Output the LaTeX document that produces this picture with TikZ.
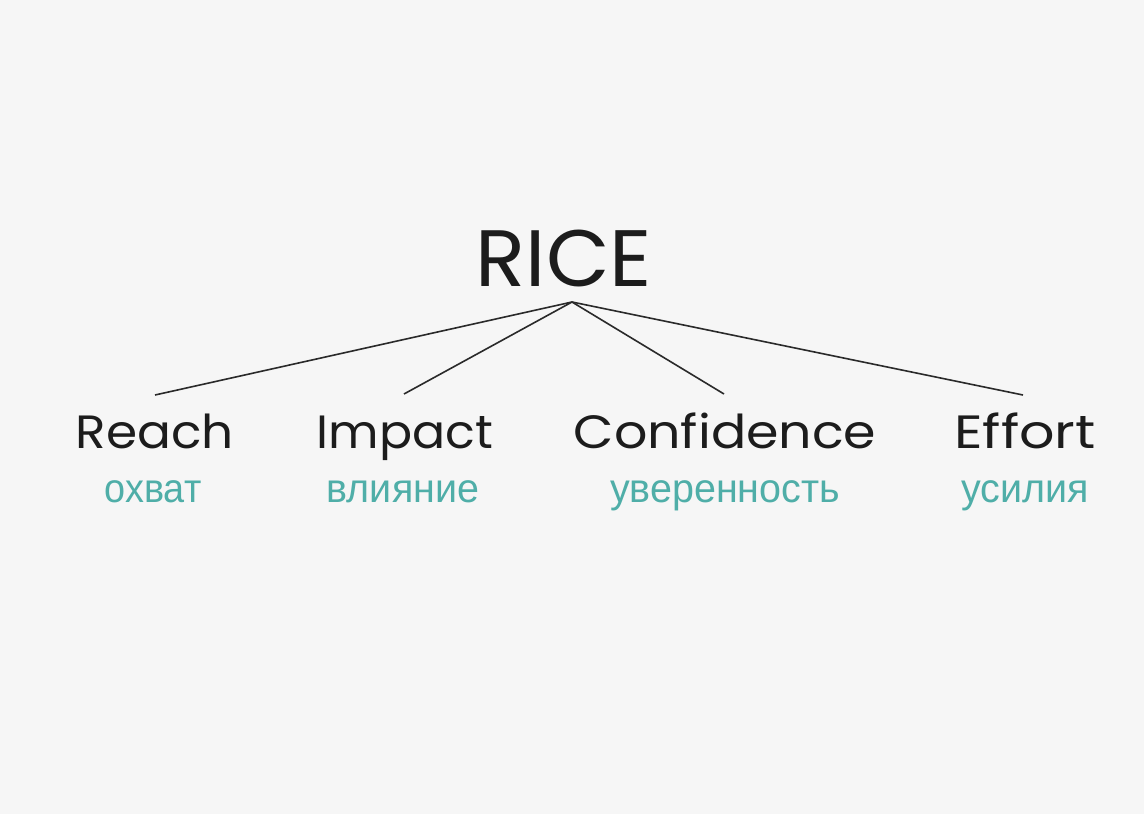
\documentclass[tikz,border=0pt]{standalone}
\usepackage{fontspec}
\setmainfont{Poppins}
\newfontfamily\rufont{Liberation Sans}
\definecolor{bgc}{HTML}{F6F6F6}
\definecolor{ink}{HTML}{1C1C1C}
\definecolor{teal}{HTML}{4FAEA8}
\definecolor{linec}{HTML}{2A2A2A}
\newcommand\wideby[2]{\scalebox{#1}[1]{#2}}
\begin{document}
\begin{tikzpicture}[x=0.75pt,y=-0.75pt,
  title/.style={anchor=base,inner sep=0pt,text=ink,font=\fontsize{60}{60}\selectfont},
  term/.style={anchor=base,inner sep=0pt,text=ink,font=\fontsize{35}{35}\selectfont},
  trans/.style={anchor=base,inner sep=0pt,text=teal,font=\rufont\fontsize{30.5}{31}\selectfont},
  link/.style={draw=linec,line width=1.2pt}]
\fill[bgc] (0,0) rectangle (1144,814);
\useasboundingbox (0,0) rectangle (1144,814);
\node[title] (rice) at (564,286) {\wideby{1.03}{RICE}};
\coordinate (apex) at (572,302);
\node[term] (reach) at (155,448) {\wideby{1.075}{Reach}};
\node[term] (impact) at (405,448) {\wideby{1.05}{Impact}};
\node[term] (conf) at (725,448) {\wideby{1.12}{Confidence}};
\node[term] (effort) at (1025,448) {\wideby{1.19}{Effort}};
\node[trans] (oxvat) at (153,502) {\wideby{0.93}{охват}};
\node[trans] (vliyanie) at (403,502) {\wideby{0.97}{влияние}};
\node[trans] (uver) at (725,502) {\wideby{0.97}{уверенность}};
\node[trans] (usiliya) at (1025,502) {\wideby{0.97}{усилия}};
\coordinate (reachtop) at (155,395);
\coordinate (impacttop) at (404,394);
\coordinate (conftop) at (724,394);
\coordinate (efforttop) at (1023,395);
\draw[link] (apex) -- (reachtop);
\draw[link] (apex) -- (impacttop);
\draw[link] (apex) -- (conftop);
\draw[link] (apex) -- (efforttop);
\end{tikzpicture}
\end{document}
